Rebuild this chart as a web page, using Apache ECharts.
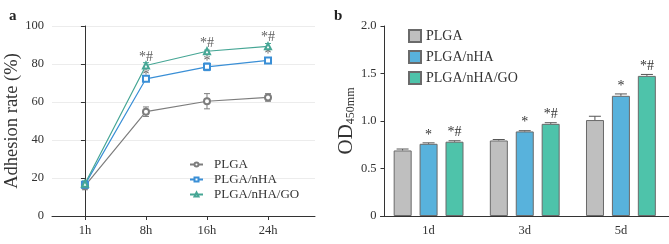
<!DOCTYPE html>
<html>
<head>
<meta charset="utf-8">
<script src="https://cdn.jsdelivr.net/npm/echarts@6/dist/echarts.min.js"></script>
<style>
  html, body { margin: 0; padding: 0; background: #fff; }
  #chart { width: 669px; height: 244px; }
</style>
</head>
<body>
<div id="chart"></div>
<script>
// panel a: adhesion rate
const hours = ['1h', '8h', '16h', '24h']
const plga = [15.8, 54.9, 60.4, 62.4]
const plgaErr = [2, 2.5, 4, 2]
const nha = [16.5, 72.2, 78.5, 81.9]
const nhaErr = [1.5, 1, 2, 1.5]
const go = [17, 79.2, 86.7, 89.3]
const goErr = [1.5, 1.5, 0.6, 1.5]
// [hour index, y, text]
const marksA = [
  [1, 83.5, '*#'], [1, 74, '*'],
  [2, 91, '*#'], [2, 81.5, '*'],
  [3, 94, '*#'], [3, 85, '*']
]

// panel b: OD450
const days = ['1d', '3d', '5d']
const odPlga = [0.69, 0.795, 1.01]
const odPlgaErr = [0.015, 0.01, 0.04]
const odNha = [0.76, 0.89, 1.265]
const odNhaErr = [0.01, 0.008, 0.02]
const odGo = [0.782, 0.97, 1.475]
const odGoErr = [0.01, 0.012, 0.015]
const marksPlga = ['', '', '']
const marksNha = ['*', '*', '*']
const marksGo = ['*#', '*#', '*#']

const serif = 'Liberation Serif, Times New Roman, DejaVu Serif, serif'
const cGray = '#7d7d7d'
const cBlue = '#3a8fd6'
const cTeal = '#46a695'

const chart = echarts.init(document.getElementById('chart'))

function errSeries (name, values, errs, color) {
  return {
    type: 'custom',
    xAxisIndex: 0,
    yAxisIndex: 0,
    z: 1,
    silent: true,
    data: values.map((v, i) => [i, v, errs[i]]),
    renderItem (params, api) {
      const x = api.value(0)
      const y = api.value(1)
      const e = api.value(2)
      const top = api.coord([x, y + e])
      const bot = api.coord([x, y - e])
      const style = { stroke: color, lineWidth: 1 }
      return {
        type: 'group',
        children: [
          { type: 'line', shape: { x1: top[0], y1: top[1], x2: bot[0], y2: bot[1] }, style },
          { type: 'line', shape: { x1: top[0] - 3, y1: top[1], x2: top[0] + 3, y2: top[1] }, style },
          { type: 'line', shape: { x1: bot[0] - 3, y1: bot[1], x2: bot[0] + 3, y2: bot[1] }, style }
        ]
      }
    }
  }
}

const barOffsets = [-26, 0, 26]
function barErrSeries (idx, values, errs, marks) {
  return {
    type: 'custom',
    xAxisIndex: 1,
    yAxisIndex: 1,
    z: 5,
    silent: true,
    data: values.map((v, i) => [i, v, errs[i]]),
    renderItem (params, api) {
      const i = api.value(0)
      const v = api.value(1)
      const e = api.value(2)
      const base = api.coord([i, v])
      const top = api.coord([i, v + e])
      const x = base[0] + barOffsets[idx]
      const style = { stroke: '#555', lineWidth: 1 }
      const children = [
        { type: 'line', shape: { x1: x, y1: base[1], x2: x, y2: top[1] }, style },
        { type: 'line', shape: { x1: x - 6, y1: top[1], x2: x + 6, y2: top[1] }, style }
      ]
      if (marks[i]) {
        children.push({
          type: 'text',
          style: {
            x: x,
            y: top[1] - 1,
            text: marks[i],
            align: 'center',
            verticalAlign: 'bottom',
            fill: '#333',
            font: '14px ' + serif
          }
        })
      }
      return { type: 'group', children }
    }
  }
}

function lineSeries (name, values, color, symbol) {
  return {
    name,
    type: 'line',
    xAxisIndex: 0,
    yAxisIndex: 0,
    z: 3,
    data: values.map((v, i) => [i, v]),
    symbol,
    symbolSize: 6,
    lineStyle: { color, width: 1.2 },
    itemStyle: { color, borderWidth: 1.2 }
  }
}

function barSeries (name, values, color) {
  return {
    name,
    type: 'bar',
    xAxisIndex: 1,
    yAxisIndex: 1,
    data: values,
    barWidth: 18,
    barGap: '44%',
    itemStyle: { color, borderColor: '#6a6a6a', borderWidth: 1 }
  }
}

chart.setOption({
  animation: false,
  textStyle: { fontFamily: serif },
  grid: [
    { left: 52, top: 26, width: 263, height: 190 },
    { left: 380.5, top: 26, width: 290, height: 190 }
  ],
  xAxis: [
    {
      type: 'value',
      gridIndex: 0,
      min: -0.54,
      max: 3.77,
      splitLine: { show: false },
      axisLine: { lineStyle: { color: '#333' } },
      axisTick: { customValues: [0, 1, 2, 3], length: 4, lineStyle: { color: '#333' } },
      axisLabel: {
        customValues: [0, 1, 2, 3],
        formatter: v => hours[v],
        color: '#333',
        fontSize: 12.5,
        fontFamily: serif,
        margin: 8
      }
    },
    {
      type: 'category',
      gridIndex: 1,
      data: days,
      axisLine: { lineStyle: { color: '#333' } },
      axisTick: { alignWithLabel: true, length: 4, lineStyle: { color: '#333' } },
      axisLabel: { color: '#333', fontSize: 12.5, fontFamily: serif, margin: 8 }
    }
  ],
  yAxis: [
    {
      type: 'value',
      gridIndex: 0,
      min: 0,
      max: 100,
      interval: 20,
      name: 'Adhesion rate (%)',
      nameLocation: 'middle',
      nameGap: 23,
      nameTextStyle: { fontSize: 18.5, color: '#333', fontFamily: serif },
      axisLine: { show: true, lineStyle: { color: '#333' } },
      axisTick: { show: true, length: 4, lineStyle: { color: '#333' } },
      splitLine: { show: true, lineStyle: { color: '#ececec' } },
      axisLabel: { color: '#333', fontSize: 12.5, fontFamily: serif, margin: 8 }
    },
    {
      type: 'value',
      gridIndex: 1,
      min: 0,
      max: 2,
      interval: 0.5,
      offset: -4,
      name: '{a|OD}{b|450mm}',
      nameLocation: 'middle',
      nameGap: 26,
      nameTextStyle: {
        color: '#333',
        rich: {
          a: { fontSize: 21, fontFamily: serif, color: '#333' },
          b: { fontSize: 12, fontFamily: serif, color: '#333', padding: [8, 0, 0, 0] }
        }
      },
      axisLine: { show: true, lineStyle: { color: '#333' } },
      axisTick: { show: true, length: 4, lineStyle: { color: '#333' } },
      splitLine: { show: false },
      axisLabel: {
        color: '#333',
        fontSize: 12.5,
        fontFamily: serif,
        margin: 8,
        formatter: v => v === 0 ? '0' : v.toFixed(1)
      }
    }
  ],
  legend: [
    {
      data: ['PLGA', 'PLGA/nHA', 'PLGA/nHA/GO'],
      orient: 'vertical',
      left: 184,
      top: 153,
      itemWidth: 13,
      itemHeight: 5,
      itemGap: 2,
      selectedMode: false,
      textStyle: { fontSize: 13, color: '#333', fontFamily: serif, padding: [0, 0, 0, 6] }
    },
    {
      data: ['PLGA ', 'PLGA/nHA ', 'PLGA/nHA/GO '],
      orient: 'vertical',
      left: 403,
      top: 24,
      itemWidth: 12,
      itemHeight: 12,
      itemGap: 7,
      selectedMode: false,
      icon: 'rect',
      textStyle: { fontSize: 14, color: '#333', fontFamily: serif, padding: [0, 0, 0, 0] }
    }
  ],
  graphic: [
    { type: 'text', left: 9, top: 9, style: { text: 'a', font: 'bold 15px ' + serif, fill: '#222' } },
    { type: 'text', left: 334, top: 9, style: { text: 'b', font: 'bold 15px ' + serif, fill: '#222' } }
  ],
  series: [
    errSeries('PLGA', plga, plgaErr, cGray),
    errSeries('PLGA/nHA', nha, nhaErr, cBlue),
    errSeries('PLGA/nHA/GO', go, goErr, cTeal),
    lineSeries('PLGA', plga, cGray, 'emptyCircle'),
    lineSeries('PLGA/nHA', nha, cBlue, 'emptyRect'),
    lineSeries('PLGA/nHA/GO', go, cTeal, 'emptyTriangle'),
    {
      type: 'scatter',
      xAxisIndex: 0,
      yAxisIndex: 0,
      symbolSize: 0,
      silent: true,
      data: marksA.map(m => [m[0], m[1], m[2]]),
      label: {
        show: true,
        position: 'inside',
        formatter: p => p.value[2],
        color: '#333',
        fontSize: 14,
        fontFamily: serif
      }
    },
    barSeries('PLGA ', odPlga, '#bfbfbf'),
    barSeries('PLGA/nHA ', odNha, '#58b2dc'),
    barSeries('PLGA/nHA/GO ', odGo, '#4ec3aa'),
    barErrSeries(0, odPlga, odPlgaErr, marksPlga),
    barErrSeries(1, odNha, odNhaErr, marksNha),
    barErrSeries(2, odGo, odGoErr, marksGo)
  ]
})
</script>
</body>
</html>
